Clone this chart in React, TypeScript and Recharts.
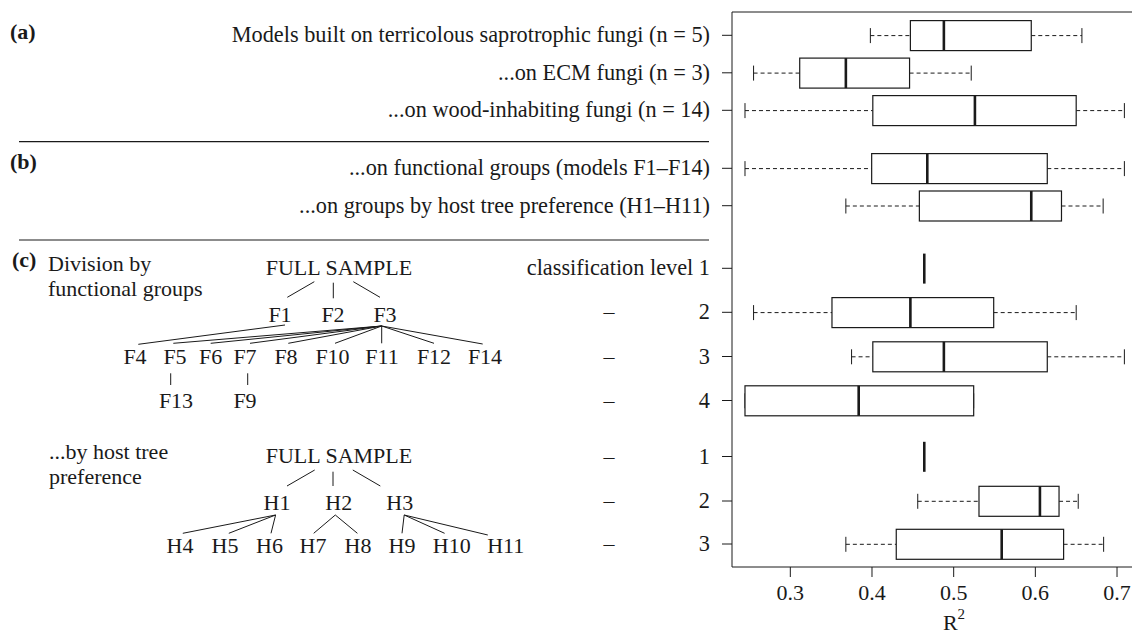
import React from "react";
import { ComposedChart, Bar, XAxis, YAxis, ReferenceLine, Label } from "recharts";

const FONT = "'Liberation Serif', 'Times New Roman', Times, serif";
const INK = "#1a1a1a";

// rows, top to bottom
const rowLabels = [
  "Models built on terricolous saprotrophic fungi (n = 5)",
  "...on ECM fungi (n = 3)",
  "...on wood-inhabiting fungi (n = 14)",
  "...on functional groups (models F1–F14)",
  "...on groups by host tree preference (H1–H11)",
  "classification level 1",
  "2",
  "3",
  "4",
  "1",
  "2",
  "3",
];
// rows with a "–" in the classification column
const dashRows = [6, 7, 8, 9, 10, 11];

// R² box summaries
const whiskerLow = [0.398, 0.255, 0.2445, 0.2445, 0.368, 0.464, 0.255, 0.375, 0.2445, 0.464, 0.456, 0.368];
const lowerQ = [0.447, 0.3115, 0.401, 0.3996, 0.458, 0.464, 0.351, 0.401, 0.2445, 0.464, 0.531, 0.4297];
const medians = [0.488, 0.368, 0.526, 0.4677, 0.595, 0.464, 0.447, 0.488, 0.3837, 0.464, 0.6056, 0.5588];
const upperQ = [0.595, 0.446, 0.65, 0.6146, 0.632, 0.464, 0.549, 0.6146, 0.5245, 0.464, 0.629, 0.6346];
const whiskerHigh = [0.657, 0.5215, 0.709, 0.709, 0.683, 0.464, 0.65, 0.709, 0.5245, 0.464, 0.6525, 0.6836];

const xTicks = [0.3, 0.4, 0.5, 0.6, 0.7];

// vertical slot of each row (y units, 0 = top of the frame)
const rowPos = [23.3, 60.8, 98.3, 156.3, 193.7, 256.3, 300.3, 344.5, 388.5, 444.5, 489, 532];

const boxData = rowLabels.map((label, i) => ({
  label,
  pos: rowPos[i],
  low: whiskerLow[i],
  q1: lowerQ[i],
  median: medians[i],
  q3: upperQ[i],
  high: whiskerHigh[i],
  range: [whiskerLow[i], whiskerHigh[i]],
}));

// tree annotations on the left
const fTop = { label: "FULL SAMPLE", x: 339, y: 275 };
const fLevel2 = [
  { label: "F1", x: 280 },
  { label: "F2", x: 333 },
  { label: "F3", x: 385 },
];
const fLevel3 = [
  { label: "F4", x: 135 },
  { label: "F5", x: 175 },
  { label: "F6", x: 210.7 },
  { label: "F7", x: 245 },
  { label: "F8", x: 286 },
  { label: "F10", x: 332.5 },
  { label: "F11", x: 382 },
  { label: "F12", x: 434 },
  { label: "F14", x: 485 },
];
const fLevel4 = [
  { label: "F13", x: 176 },
  { label: "F9", x: 245 },
];
const fLinks = [
  [314.3, 281.7, 287.3, 297.3],
  [333.3, 282.7, 333.3, 298.3],
  [353.3, 281.7, 380, 297.3],
  [285, 325, 138.3, 344.3],
  [381.7, 326, 173.3, 343.3],
  [381.7, 326, 210.7, 343.3],
  [381.7, 326, 250, 343.3],
  [381.7, 326, 288.3, 343.3],
  [381.7, 326, 335, 343.3],
  [381.7, 326, 381.7, 343.3],
  [381.7, 326, 434, 343.3],
  [381.7, 326, 482.7, 344],
  [170.7, 373.3, 170.7, 385],
  [247.7, 373.3, 247.7, 385],
];

const hTop = { label: "FULL SAMPLE", x: 339, y: 463 };
const hLevel2 = [
  { label: "H1", x: 277 },
  { label: "H2", x: 338.8 },
  { label: "H3", x: 399.8 },
];
const hLevel3 = [
  { label: "H4", x: 180 },
  { label: "H5", x: 225 },
  { label: "H6", x: 269.5 },
  { label: "H7", x: 313 },
  { label: "H8", x: 358 },
  { label: "H9", x: 402 },
  { label: "H10", x: 451.8 },
  { label: "H11", x: 505.7 },
];
const hLinks = [
  [314.7, 470, 287, 486],
  [333, 471.7, 333, 486],
  [352.8, 470, 380.3, 486],
  [275.6, 515, 182.8, 533.3],
  [275.6, 515, 228.8, 533.3],
  [275.6, 515, 271, 533.3],
  [335.3, 515, 313.7, 533.3],
  [335.3, 515, 357.4, 533.3],
  [404.2, 515, 402, 533.3],
  [404.2, 515, 444.6, 533.3],
  [404.2, 515, 487.8, 535],
];

const BoxPlotShape = (props: any) => {
  const { x, y, width, height, payload } = props;
  const { low, q1, median, q3, high } = payload;
  const span = high - low;
  const px = (v: number) => (span > 0 ? x + ((v - low) / span) * width : x);
  const cy = y + height / 2;
  const cap = height / 4;

  if (span === 0) {
    return <line x1={x} x2={x} y1={y} y2={y + height} stroke={INK} strokeWidth={2.6} />;
  }

  return (
    <g>
      <line x1={px(low)} x2={px(q1)} y1={cy} y2={cy} stroke={INK} strokeDasharray="4 3" />
      <line x1={px(q3)} x2={px(high)} y1={cy} y2={cy} stroke={INK} strokeDasharray="4 3" />
      <line x1={px(low)} x2={px(low)} y1={cy - cap} y2={cy + cap} stroke={INK} />
      <line x1={px(high)} x2={px(high)} y1={cy - cap} y2={cy + cap} stroke={INK} />
      <rect x={px(q1)} y={y} width={px(q3) - px(q1)} height={height} fill="#fff" stroke={INK} strokeWidth={1.2} />
      <line x1={px(median)} x2={px(median)} y1={y} y2={y + height} stroke={INK} strokeWidth={2.6} />
    </g>
  );
};

const RowTick = (props: any) => {
  const { x, y, payload } = props;
  const i = rowPos.indexOf(payload.value);
  if (i < 0) return null;
  return (
    <g>
      <text x={x} y={y} dy="0.32em" textAnchor="end" fontSize={22.3} fontFamily={FONT} fill={INK}>
        {rowLabels[i]}
      </text>
      {dashRows.includes(i) && (
        <text x={x - 101} y={y} dy="0.32em" textAnchor="middle" fontSize={22} fontFamily={FONT} fill={INK}>
          –
        </text>
      )}
    </g>
  );
};

const R2Label = (props: any) => {
  const vb = props.viewBox;
  return (
    <text x={vb.x + vb.width / 2} y={vb.y + 63} textAnchor="middle" fontSize={22} fontFamily={FONT} fill={INK}>
      R
      <tspan dy={-11} fontSize={15}>
        2
      </tspan>
    </text>
  );
};

const Tree = ({ top, level2, level3, level4, links, y2, y3, y4 }: any) => (
  <g fontFamily={FONT} fontSize={22} fill={INK} textAnchor="middle">
    <text x={top.x} y={top.y}>
      {top.label}
    </text>
    {level2.map((n: any) => (
      <text key={n.label} x={n.x} y={y2}>
        {n.label}
      </text>
    ))}
    {level3.map((n: any) => (
      <text key={n.label} x={n.x} y={y3}>
        {n.label}
      </text>
    ))}
    {(level4 || []).map((n: any) => (
      <text key={n.label} x={n.x} y={y4}>
        {n.label}
      </text>
    ))}
    {links.map((l: number[], k: number) => (
      <line key={k} x1={l[0]} y1={l[1]} x2={l[2]} y2={l[3]} stroke={INK} strokeWidth={1} />
    ))}
  </g>
);

export default function App() {
  return (
    <div style={{ position: "fixed", left: 0, top: 0, width: 1132, height: 636, overflow: "hidden", background: "#fff" }}>
      <ComposedChart
        width={1180}
        height={636}
        data={boxData}
        layout="vertical"
        margin={{ top: 12, right: 4, bottom: 0, left: 0 }}
      >
        <XAxis
          type="number"
          domain={[0.2286, 0.7722]}
          allowDataOverflow
          ticks={xTicks}
          interval={0}
          tickFormatter={(v: number) => v.toFixed(1)}
          tickSize={10}
          tickMargin={7}
          height={69}
          stroke={INK}
          tick={{ fontSize: 22, fontFamily: FONT, fill: INK }}
        >
          <Label content={<R2Label />} />
        </XAxis>
        <YAxis
          type="number"
          dataKey="pos"
          domain={[0, 555]}
          allowDataOverflow
          ticks={rowPos}
          interval={0}
          tickSize={10}
          tickMargin={12}
          width={732}
          stroke={INK}
          tick={<RowTick />}
        />
        <ReferenceLine y={0} stroke={INK} strokeWidth={1} />
        <Bar dataKey="range" barSize={30} shape={<BoxPlotShape />} isAnimationActive={false} />
      </ComposedChart>

      <svg width={1132} height={636} style={{ position: "absolute", left: 0, top: 0, pointerEvents: "none" }}>
        <g fontFamily={FONT} fontSize={22} fontWeight="bold" fill={INK}>
          <text x={10} y={39}>(a)</text>
          <text x={10} y={169}>(b)</text>
          <text x={12} y={267}>(c)</text>
        </g>
        <line x1={19} x2={709} y1={141.7} y2={141.7} stroke={INK} strokeWidth={1.2} />
        <line x1={19} x2={709} y1={240} y2={240} stroke={INK} strokeWidth={1.2} />
        <g fontFamily={FONT} fontSize={22} fill={INK}>
          <text x={48} y={271}>Division by</text>
          <text x={48} y={295.5}>functional groups</text>
          <text x={49} y={459}>...by host tree</text>
          <text x={49} y={483.5}>preference</text>
        </g>
        <Tree top={fTop} level2={fLevel2} level3={fLevel3} level4={fLevel4} links={fLinks} y2={321.7} y3={364} y4={408} />
        <Tree top={hTop} level2={hLevel2} level3={hLevel3} links={hLinks} y2={510} y3={553} />
      </svg>
    </div>
  );
}
